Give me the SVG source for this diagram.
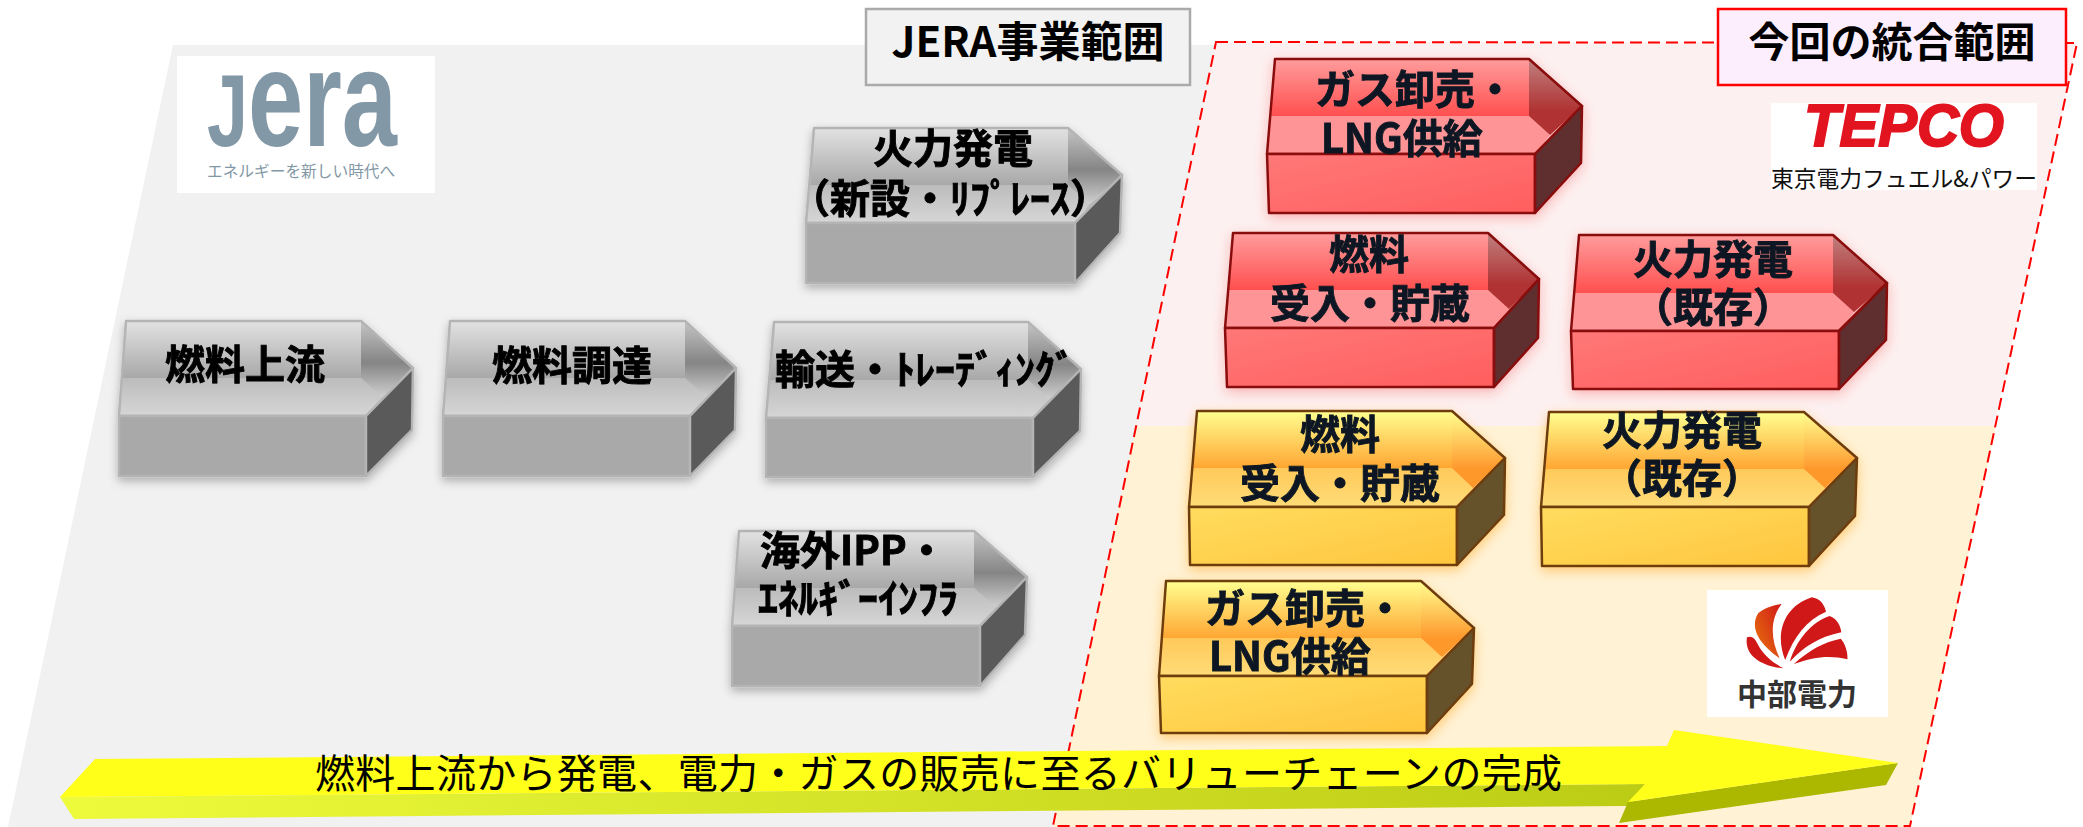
<svg xmlns="http://www.w3.org/2000/svg" width="2083" height="827" viewBox="0 0 2083 827">
<style>
text{font-family:"Noto Sans CJK JP","Noto Sans CJK SC",sans-serif}
.l{font-size:40px;font-weight:700;stroke-width:.9}
.m{text-anchor:middle}
.gray .l{fill:#000;stroke:#000}
.red .l,.org .l{fill:#0b1822;stroke:#0b1822}
.gray polygon{stroke:#b4b4b4;stroke-width:2.5;stroke-linejoin:round}
.red polygon{stroke:#8a0b0b;stroke-width:2.5;stroke-linejoin:round}
.org polygon{stroke:#6e3c10;stroke-width:2.5;stroke-linejoin:round}
.gray polygon.in,.red polygon.in,.org polygon.in{stroke:none}
polygon.ol{fill:none}
.gray{filter:url(#sg)}.red{filter:url(#sr)}.org{filter:url(#so)}
.gray .up{fill:url(#gu)}.gray .bd{fill:url(#gb)}.gray .hd{fill:url(#gh)}.gray .fr{fill:#a9a9a9}.gray .sd{fill:#5a5a5a}
.red .up{fill:url(#ru)}.red .bd{fill:#ff9496}.red .hd{fill:url(#rh)}.red .fr{fill:url(#rf)}.red .sd{fill:#5f2d2d}
.org .up{fill:url(#ou)}.org .bd{fill:url(#ob)}.org .hd{fill:url(#oh)}.org .fr{fill:url(#of)}.org .sd{fill:#65512b}
</style>
<defs>
<linearGradient id="gu" x1="0" y1="0" x2="0" y2="1"><stop offset="0" stop-color="#e2e2e2"/><stop offset="1" stop-color="#a8a8a8"/></linearGradient>
<linearGradient id="gb" x1="0" y1="0" x2="0" y2="1"><stop offset="0" stop-color="#bcbcbc"/><stop offset="1" stop-color="#d6d6d6"/></linearGradient>
<linearGradient id="gh" x1="0" y1="0" x2="0" y2="1"><stop offset="0" stop-color="#c4c4c4"/><stop offset=".55" stop-color="#858585"/><stop offset="1" stop-color="#cfcfcf"/></linearGradient>
<linearGradient id="ru" x1="0" y1="0" x2="0" y2="1"><stop offset="0" stop-color="#ff9c9c"/><stop offset="1" stop-color="#ff4f4f"/></linearGradient>
<linearGradient id="rh" x1="0" y1="0" x2="0" y2="1"><stop offset="0" stop-color="#c08080"/><stop offset=".7" stop-color="#b03030"/></linearGradient>
<linearGradient id="rf" x1="0" y1="0" x2="1" y2="1"><stop offset="0" stop-color="#ff7878"/><stop offset="1" stop-color="#ff5e5e"/></linearGradient>
<linearGradient id="ou" x1="0" y1="0" x2="0" y2="1"><stop offset="0" stop-color="#ffff90"/><stop offset="1" stop-color="#ffa632"/></linearGradient>
<linearGradient id="ob" x1="0" y1="0" x2="0" y2="1"><stop offset="0" stop-color="#ffc95a"/><stop offset="1" stop-color="#ffdc78"/></linearGradient>
<linearGradient id="oh" x1="0" y1="0" x2="0" y2="1"><stop offset="0" stop-color="#ffff90"/><stop offset=".75" stop-color="#ff982c"/></linearGradient>
<linearGradient id="of" x1="0" y1="0" x2="1" y2="1"><stop offset="0" stop-color="#ffdc5e"/><stop offset="1" stop-color="#ffc63e"/></linearGradient>
<linearGradient id="as" x1="0" y1="0" x2="1" y2="0"><stop offset="0" stop-color="#eefb3c"/><stop offset="1" stop-color="#bccc14"/></linearGradient>
<linearGradient id="pe" x1="0" y1="1" x2="1" y2="0"><stop offset="0" stop-color="#e8780c"/><stop offset="1" stop-color="#d01818"/></linearGradient>
<filter id="sg" x="-15%" y="-15%" width="130%" height="135%"><feDropShadow dx="0" dy="4" stdDeviation="5" flood-color="#000" flood-opacity=".28"/></filter>
<filter id="sr" x="-15%" y="-15%" width="130%" height="135%"><feDropShadow dx="0" dy="4" stdDeviation="6" flood-color="#f03030" flood-opacity=".3"/></filter>
<filter id="so" x="-15%" y="-15%" width="130%" height="135%"><feDropShadow dx="0" dy="4" stdDeviation="6" flood-color="#ff9a10" flood-opacity=".45"/></filter>
</defs>
<rect width="2083" height="827" fill="#fff"/>
<polygon points="173,45 1300,45 1100,827 8,827" fill="#f1f1f1"/>
<polygon points="1216,42 2077,43 1994,426 1136,426" fill="#fdf0f0"/>
<polygon points="1136,426 1996,426 1910,827 1053,827" fill="#fff2d5"/>
<polygon points="1216,42 2077,43 1910,826 1053,826" fill="none" stroke="#f00" stroke-width="2" stroke-dasharray="12 6"/>

<g id="scope-jera"><rect x="866" y="9" width="324" height="76" fill="#f2f2f2" stroke="#aaa" stroke-width="2.5"/><text x="1028" y="57" class="m" font-size="42" font-weight="700">JERA事業範囲</text></g>
<g id="scope-merge"><rect x="1718" y="9" width="348" height="76" fill="#fdeefd" stroke="#f00" stroke-width="2.5"/><text x="1892" y="57" class="m" font-size="41" font-weight="700">今回の統合範囲</text></g>

<g id="logo-jera"><rect x="177" y="56" width="258" height="137" fill="#fff"/>
<text transform="translate(207,146) scale(1,1.42)" font-size="97" font-weight="700" fill="#8398a6" style="font-family:'Liberation Sans',sans-serif" textLength="190" lengthAdjust="spacingAndGlyphs"><tspan font-size="72">J</tspan>era</text>
<text x="207" y="177" font-size="15.7" fill="#8398a6">エネルギーを新しい時代へ</text></g>

<g id="logo-tepco"><rect x="1771" y="103" width="266" height="87" fill="#fff"/>
<text x="1804" y="146" font-size="60" font-weight="700" font-style="italic" fill="#e2141f" stroke="#e2141f" stroke-width="2" style="font-family:'Liberation Sans',sans-serif" textLength="200" lengthAdjust="spacingAndGlyphs">TEPCO</text>
<text x="1771" y="187" font-size="23" fill="#111" textLength="266" lengthAdjust="spacingAndGlyphs">東京電力フュエル&amp;パワー</text></g>

<g id="logo-chubu"><rect x="1707" y="590" width="181" height="127" fill="#fff"/>
<g transform="translate(1100,400) scale(.5102,.3333)" fill="#d01818">
<path d="M1340,805C1300,800 1262,770 1268,712C1280,705 1285,720 1290,735C1300,765 1320,790 1340,805Z"/>
<path d="M1332,775C1300,740 1270,690 1290,640C1300,625 1320,615 1336,612C1312,660 1315,720 1332,775Z" fill="url(#pe)"/>
<path d="M1343,780C1322,700 1340,620 1395,592C1412,595 1420,615 1423,635C1385,660 1360,710 1343,780Z"/>
<path d="M1352,785C1365,720 1395,665 1430,648C1445,655 1452,680 1453,697C1410,710 1380,740 1352,785Z"/>
<path d="M1360,792C1390,750 1420,725 1452,716C1460,730 1466,755 1465,778C1430,765 1400,770 1360,792Z"/>
</g>
<text x="1797" y="705" class="m" font-size="30" font-weight="700" fill="#333">中部電力</text></g>

<g id="fuel-upstream" class="gray">
<polygon class="up in" points="126,321 361,321 361,378 122,378"/><polygon class="bd in" points="122,378 361,378 382,397 366,416 119,416"/><polygon class="hd in" points="361,321 413,368 382,397 361,378"/><polygon class="ol" points="126,321 361,321 413,368 366,416 119,416"/><polygon points="119,416 366,416 366,476 119,476" class="fr"/><polygon points="366,416 413,368 412,430 366,476" class="sd"/>
<text x="245" y="379" class="l m">燃料上流</text></g>
<g id="fuel-procure" class="gray">
<polygon class="up in" points="450,321 685,321 685,378 446,378"/><polygon class="bd in" points="446,378 685,378 706,397 690,416 443,416"/><polygon class="hd in" points="685,321 736,368 706,397 685,378"/><polygon class="ol" points="450,321 685,321 736,368 690,416 443,416"/><polygon points="443,416 690,416 690,476 443,476" class="fr"/><polygon points="690,416 736,368 735,430 690,476" class="sd"/>
<text x="572" y="380" class="l m">燃料調達</text></g>
<g id="transport" class="gray">
<polygon class="up in" points="774,322 1028,322 1028,380 770,380"/><polygon class="bd in" points="770,380 1028,380 1049,399 1033,418 766,418"/><polygon class="hd in" points="1028,322 1081,369 1049,399 1028,380"/><polygon class="ol" points="774,322 1028,322 1081,369 1033,418 766,418"/><polygon points="766,418 1033,418 1033,477 766,477" class="fr"/><polygon points="1033,418 1081,369 1080,431 1033,477" class="sd"/>
<text x="775" y="384" class="l">輸送・ﾄﾚｰﾃﾞｨﾝｸﾞ</text></g>
<g id="thermal-new" class="gray">
<polygon class="up in" points="814,128 1068,128 1068,185 810,185"/><polygon class="bd in" points="810,185 1068,185 1089,204 1075,223 806,223"/><polygon class="hd in" points="1068,128 1122,175 1089,204 1068,185"/><polygon class="ol" points="814,128 1068,128 1122,175 1075,223 806,223"/><polygon points="806,223 1075,223 1075,283 806,283" class="fr"/><polygon points="1075,223 1122,175 1120,233 1075,283" class="sd"/>
<text x="953" y="163" class="l m">火力発電</text><text x="950" y="213" class="l m">（新設・ﾘﾌﾟﾚｰｽ）</text></g>
<g id="overseas-ipp" class="gray">
<polygon class="up in" points="739,531 974,531 974,588 735,588"/><polygon class="bd in" points="735,588 974,588 995,607 980,626 732,626"/><polygon class="hd in" points="974,531 1027,577 995,607 974,588"/><polygon class="ol" points="739,531 974,531 1027,577 980,626 732,626"/><polygon points="732,626 980,626 980,686 732,686" class="fr"/><polygon points="980,626 1027,577 1025,635 980,686" class="sd"/>
<text x="760" y="565" class="l">海外IPP・</text><text x="758" y="613" class="l">ｴﾈﾙｷﾞｰｲﾝﾌﾗ</text></g>

<g id="red-gas" class="red">
<polygon class="up in" points="1275,59 1529,59 1529,116 1271,116"/><polygon class="bd in" points="1271,116 1529,116 1550,135 1535,154 1267,154"/><polygon class="hd in" points="1529,59 1582,106 1550,135 1529,116"/><polygon class="ol" points="1275,59 1529,59 1582,106 1535,154 1267,154"/><polygon points="1267,154 1535,154 1535,213 1269,213" class="fr"/><polygon points="1535,154 1582,106 1581,163 1535,213" class="sd"/>
<text x="1315" y="104" class="l">ガス卸売・</text><text x="1321" y="153" class="l">LNG供給</text></g>
<g id="red-fuel" class="red">
<polygon class="up in" points="1233,233 1488,233 1488,290 1229,290"/><polygon class="bd in" points="1229,290 1488,290 1509,309 1494,328 1225,328"/><polygon class="hd in" points="1488,233 1539,279 1509,309 1488,290"/><polygon class="ol" points="1233,233 1488,233 1539,279 1494,328 1225,328"/><polygon points="1225,328 1494,328 1494,387 1227,387" class="fr"/><polygon points="1494,328 1539,279 1538,338 1494,387" class="sd"/>
<text x="1369" y="269" class="l m">燃料</text><text x="1270" y="318" class="l">受入・貯蔵</text></g>
<g id="red-thermal" class="red">
<polygon class="up in" points="1579,235 1833,235 1833,293 1575,293"/><polygon class="bd in" points="1575,293 1833,293 1854,312 1839,331 1571,331"/><polygon class="hd in" points="1833,235 1887,283 1854,312 1833,293"/><polygon class="ol" points="1579,235 1833,235 1887,283 1839,331 1571,331"/><polygon points="1571,331 1839,331 1839,389 1573,389" class="fr"/><polygon points="1839,331 1887,283 1886,340 1839,389" class="sd"/>
<text x="1713" y="274" class="l m">火力発電</text><text x="1713" y="322" class="l m">（既存）</text></g>

<g id="org-fuel" class="org">
<polygon class="up in" points="1197,411 1452,411 1452,468 1193,468"/><polygon class="bd in" points="1193,468 1452,468 1473,488 1457,507 1189,507"/><polygon class="hd in" points="1452,411 1505,458 1473,488 1452,468"/><polygon class="ol" points="1197,411 1452,411 1505,458 1457,507 1189,507"/><polygon points="1189,507 1457,507 1457,565 1190,565" class="fr"/><polygon points="1457,507 1505,458 1504,515 1457,565" class="sd"/>
<text x="1340" y="449" class="l m">燃料</text><text x="1240" y="498" class="l">受入・貯蔵</text></g>
<g id="org-thermal" class="org">
<polygon class="up in" points="1549,412 1804,412 1804,469 1545,469"/><polygon class="bd in" points="1545,469 1804,469 1825,488 1809,507 1541,507"/><polygon class="hd in" points="1804,412 1857,458 1825,488 1804,469"/><polygon class="ol" points="1549,412 1804,412 1857,458 1809,507 1541,507"/><polygon points="1541,507 1809,507 1809,566 1542,566" class="fr"/><polygon points="1809,507 1857,458 1855,516 1809,566" class="sd"/>
<text x="1682" y="445" class="l m">火力発電</text><text x="1682" y="493" class="l m">（既存）</text></g>
<g id="org-gas" class="org">
<polygon class="up in" points="1166,581 1421,581 1421,638 1162,638"/><polygon class="bd in" points="1162,638 1421,638 1442,657 1427,676 1159,676"/><polygon class="hd in" points="1421,581 1474,628 1442,657 1421,638"/><polygon class="ol" points="1166,581 1421,581 1474,628 1427,676 1159,676"/><polygon points="1159,676 1427,676 1427,733 1161,733" class="fr"/><polygon points="1427,676 1474,628 1472,684 1427,733" class="sd"/>
<text x="1205" y="623" class="l">ガス卸売・</text><text x="1209" y="671" class="l">LNG供給</text></g>

<g id="value-chain-arrow">
<polygon points="60,797 1645,784 1628,806 74,819" fill="url(#as)"/>
<polygon points="1628,802 1898,763 1886,785 1619,823" fill="#acb800"/>
<polygon points="60,797 95,759 1667,746 1674,730 1898,763 1628,802 1645,784" fill="#ffff1a"/>
<text x="315" y="788" font-size="40" fill="#000" textLength="1247">燃料上流から発電、電力・ガスの販売に至るバリューチェーンの完成</text>
</g>
</svg>
